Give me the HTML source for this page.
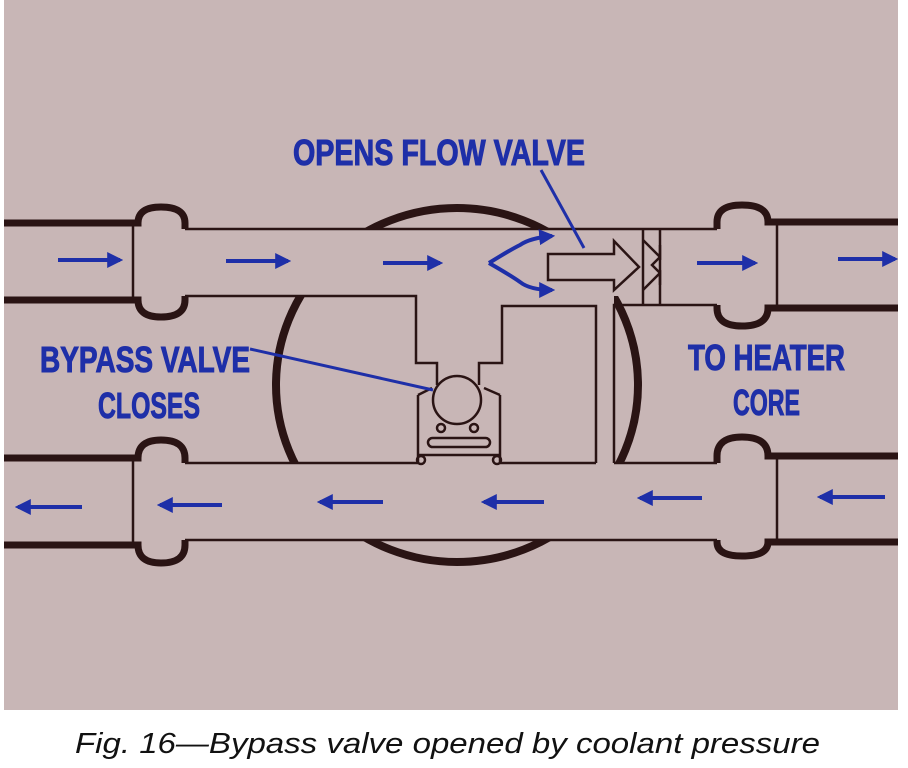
<!DOCTYPE html>
<html><head><meta charset="utf-8"><style>
html,body{margin:0;padding:0;background:#fff;width:908px;height:768px;overflow:hidden}
</style></head><body>
<svg width="908" height="768" viewBox="0 0 908 768" xmlns="http://www.w3.org/2000/svg">
<defs>
<marker id="ah" viewBox="0 0 10 10" refX="8" refY="5" markerWidth="4" markerHeight="4" orient="auto"><path d="M0,0 L10,5 L0,10 z" fill="#1e2fa8"/></marker>
</defs>
<rect x="4" y="0" width="894" height="710" fill="#c8b6b6"/>
<!-- big body circle -->
<ellipse cx="457" cy="385" rx="181" ry="177" fill="none" stroke="#2a1414" stroke-width="8"/>
<!-- pipe interiors cover -->
<rect x="4" y="229" width="894" height="67" fill="#c8b6b6"/>
<rect x="4" y="463" width="894" height="77" fill="#c8b6b6"/>
<rect x="416" y="296" width="198" height="167" fill="#c8b6b6"/>
<g fill="none" stroke="#2a1414">
<path d="M4 223 H138 Q138 207 161 207 Q185 207 185 223 V229" stroke-width="7"/>
<path d="M4 300 H138 Q138 317 161 317 Q185 317 185 300 V296" stroke-width="7"/>
<path d="M898 222 H768 Q768 205 742 205 Q717 205 717 222 V229" stroke-width="7"/>
<path d="M898 308 H768 Q768 326 742 326 Q717 326 717 308 V305" stroke-width="7"/>
<path d="M4 458 H138 Q138 440 161 440 Q185 440 185 458 V463" stroke-width="7"/>
<path d="M4 545 H138 Q138 563 161 563 Q185 563 185 545 V540" stroke-width="7"/>
<path d="M898 456 H768 Q768 437 742 437 Q717 437 717 456 V463" stroke-width="7"/>
<path d="M898 542 H768 Q768 556 742 556 Q717 556 717 542 V540" stroke-width="7"/>
</g>
<g fill="none" stroke="#2a1414" stroke-width="2.5">
<line x1="185" y1="229" x2="717" y2="229"/>
<line x1="133" y1="225" x2="133" y2="298"/>
<line x1="777" y1="225" x2="777" y2="306"/>
<line x1="133" y1="460" x2="133" y2="543"/>
<line x1="777" y1="458" x2="777" y2="541"/>
<line x1="185" y1="540" x2="717" y2="540"/>
<line x1="185" y1="463" x2="418" y2="463"/>
<line x1="500" y1="463" x2="596" y2="463"/>
<line x1="614" y1="463" x2="717" y2="463"/>
<path d="M185 296 H416 V363 H437 V385"/>
<path d="M418 395 V463"/>
<path d="M596 463 V306 H502 V363 H479 V385"/>
<path d="M500 395 V463"/>
<path d="M614 463 V305 H717"/>
<line x1="643" y1="229" x2="643" y2="305"/>
<line x1="660" y1="229" x2="660" y2="305"/>
<path d="M643 240 L660 257 L660 245"/>
<path d="M643 290 L660 273 L660 285"/>
<path d="M660 257 L652 265 L660 273"/>
<circle cx="457" cy="400" r="24"/>
<path d="M418 395 L432 388 M500 395 L484 388"/>
<circle cx="441" cy="428" r="4"/><circle cx="474" cy="428" r="4"/>
<rect x="428" y="438" width="62" height="9" rx="4.5"/>
<line x1="418" y1="455" x2="500" y2="455"/>
<circle cx="421" cy="460" r="4"/><circle cx="497" cy="460" r="4"/>
<path d="M548 254 H614 V241 L639 267 L614 290 V280 H548 Z"/>
</g>
<g stroke="#1e2fa8" stroke-width="4" fill="none" marker-end="url(#ah)">
<line x1="58" y1="260" x2="120" y2="260"/>
<line x1="226" y1="261" x2="288" y2="261"/>
<line x1="383" y1="263" x2="440" y2="263"/>
<line x1="697" y1="263" x2="755" y2="263"/>
<line x1="838" y1="259" x2="895" y2="259"/>
<line x1="82" y1="507" x2="18" y2="507"/>
<line x1="222" y1="505" x2="160" y2="505"/>
<line x1="383" y1="502" x2="320" y2="502"/>
<line x1="544" y1="502" x2="484" y2="502"/>
<line x1="702" y1="498" x2="640" y2="498"/>
<line x1="885" y1="497" x2="820" y2="497"/>
<path d="M489 263 Q510 250 520 245 Q530 238 552 236"/>
<path d="M489 263 Q510 275 520 282 Q530 290 552 290"/>
</g>
<g stroke="#1e2fa8" stroke-width="3">
<line x1="541" y1="170" x2="584" y2="248"/>
<line x1="250" y1="349" x2="433" y2="390"/>
</g>
<g fill="#1e2fa8" stroke="#1e2fa8" stroke-width="1" font-family="'Liberation Sans',sans-serif" font-weight="bold" font-size="36">
<text x="293" y="165" textLength="292" lengthAdjust="spacingAndGlyphs">OPENS FLOW VALVE</text>
<text x="40" y="372" textLength="210" lengthAdjust="spacingAndGlyphs">BYPASS VALVE</text>
<text x="98" y="418" textLength="102" lengthAdjust="spacingAndGlyphs">CLOSES</text>
<text x="688" y="370" textLength="157" lengthAdjust="spacingAndGlyphs">TO HEATER</text>
<text x="733" y="415" textLength="67" lengthAdjust="spacingAndGlyphs">CORE</text>
</g>
<text x="75" y="753" font-family="'Liberation Sans',sans-serif" font-style="italic" font-size="29" fill="#111" textLength="745" lengthAdjust="spacingAndGlyphs">Fig. 16—Bypass valve opened by coolant pressure</text>
</svg>
</body></html>
